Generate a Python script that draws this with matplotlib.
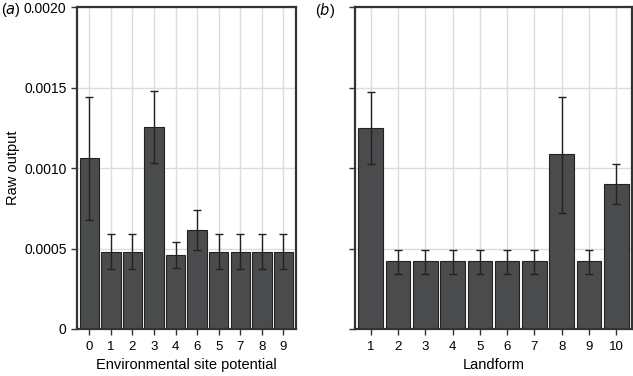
import numpy as np
import matplotlib
matplotlib.use('agg')
import matplotlib.pyplot as plt

plt.rcParams['font.family'] = ['Liberation Sans', 'DejaVu Sans']

########################## data ########################################
esp_labels = ['0', '1', '2', '3', '4', '6', '5', '7', '8', '9']
esp_values = [0.00106, 0.00048, 0.00048, 0.001257, 0.00046, 0.000615, 0.00048, 0.00048, 0.00048, 0.00048]
esp_err_hi = [0.00144, 0.00059, 0.00059, 0.001476, 0.000542, 0.000737, 0.00059, 0.00059, 0.00059, 0.00059]
esp_err_lo = [0.000677, 0.000373, 0.000373, 0.001033, 0.000377, 0.000493, 0.000373, 0.000373, 0.000373, 0.000373]

land_labels = ['1', '2', '3', '4', '5', '6', '7', '8', '9', '10']
land_values = [0.001247, 0.00042, 0.00042, 0.00042, 0.00042, 0.00042, 0.00042, 0.001085, 0.00042, 0.000902]
land_err_hi = [0.00147, 0.000493, 0.000493, 0.000493, 0.000493, 0.000493, 0.000493, 0.001443, 0.000493, 0.001023]
land_err_lo = [0.001023, 0.000343, 0.000343, 0.000343, 0.000343, 0.000343, 0.000343, 0.00072, 0.000343, 0.000776]

yticks = [0, 0.0005, 0.0010, 0.0015, 0.0020]
ytick_labels = ['0', '0.0005', '0.0010', '0.0015', '0.0020']

########################## plot ########################################
fig = plt.figure(figsize=(6.33, 3.76), dpi=100)
ax1 = fig.add_axes([0.1216, 0.125, 0.346, 0.856])
ax2 = fig.add_axes([0.561, 0.125, 0.4376, 0.856])

def panel(ax, labels, vals, hi, lo, xlabel):
    x = np.arange(len(labels))
    vals = np.array(vals)
    yerr = [vals - np.array(lo), np.array(hi) - vals]
    ax.set_axisbelow(True)
    ax.grid(True, color='#dcdcdc', linewidth=1.0)
    ax.bar(x, vals, width=0.9, color='#4a4b4d', edgecolor='#222222', linewidth=0.8, zorder=2)
    ax.errorbar(x, vals, yerr=yerr, fmt='none', ecolor='#222222', elinewidth=1.0,
                capsize=3, capthick=1.0, zorder=3)
    ax.set_xlim(-0.57, len(labels) - 0.42)
    ax.set_ylim(0, 0.0020)
    ax.set_xticks(x)
    ax.set_xticklabels(labels, fontsize=9.5)
    ax.set_yticks(yticks)
    ax.set_xlabel(xlabel, fontsize=10.5, labelpad=4)
    for s in ax.spines.values():
        s.set_color('#333333')
        s.set_linewidth(1.6)
    ax.tick_params(axis='both', direction='out', length=4, width=1.0, color='#333333')
    ax.tick_params(axis='x', pad=4.5)

panel(ax1, esp_labels, esp_values, esp_err_hi, esp_err_lo, 'Environmental site potential')
panel(ax2, land_labels, land_values, land_err_hi, land_err_lo, 'Landform')

ax1.set_yticklabels(ytick_labels, fontsize=10)
ax1.set_ylabel('Raw output', fontsize=10.5, labelpad=3)
ax2.set_yticklabels([])

fig.text(0.001, 0.997, r'($a$)', fontsize=10.5, va='top', ha='left')
fig.text(0.497, 0.997, r'($b$)', fontsize=10.5, va='top', ha='left')

plt.savefig('out.png', dpi=100)
